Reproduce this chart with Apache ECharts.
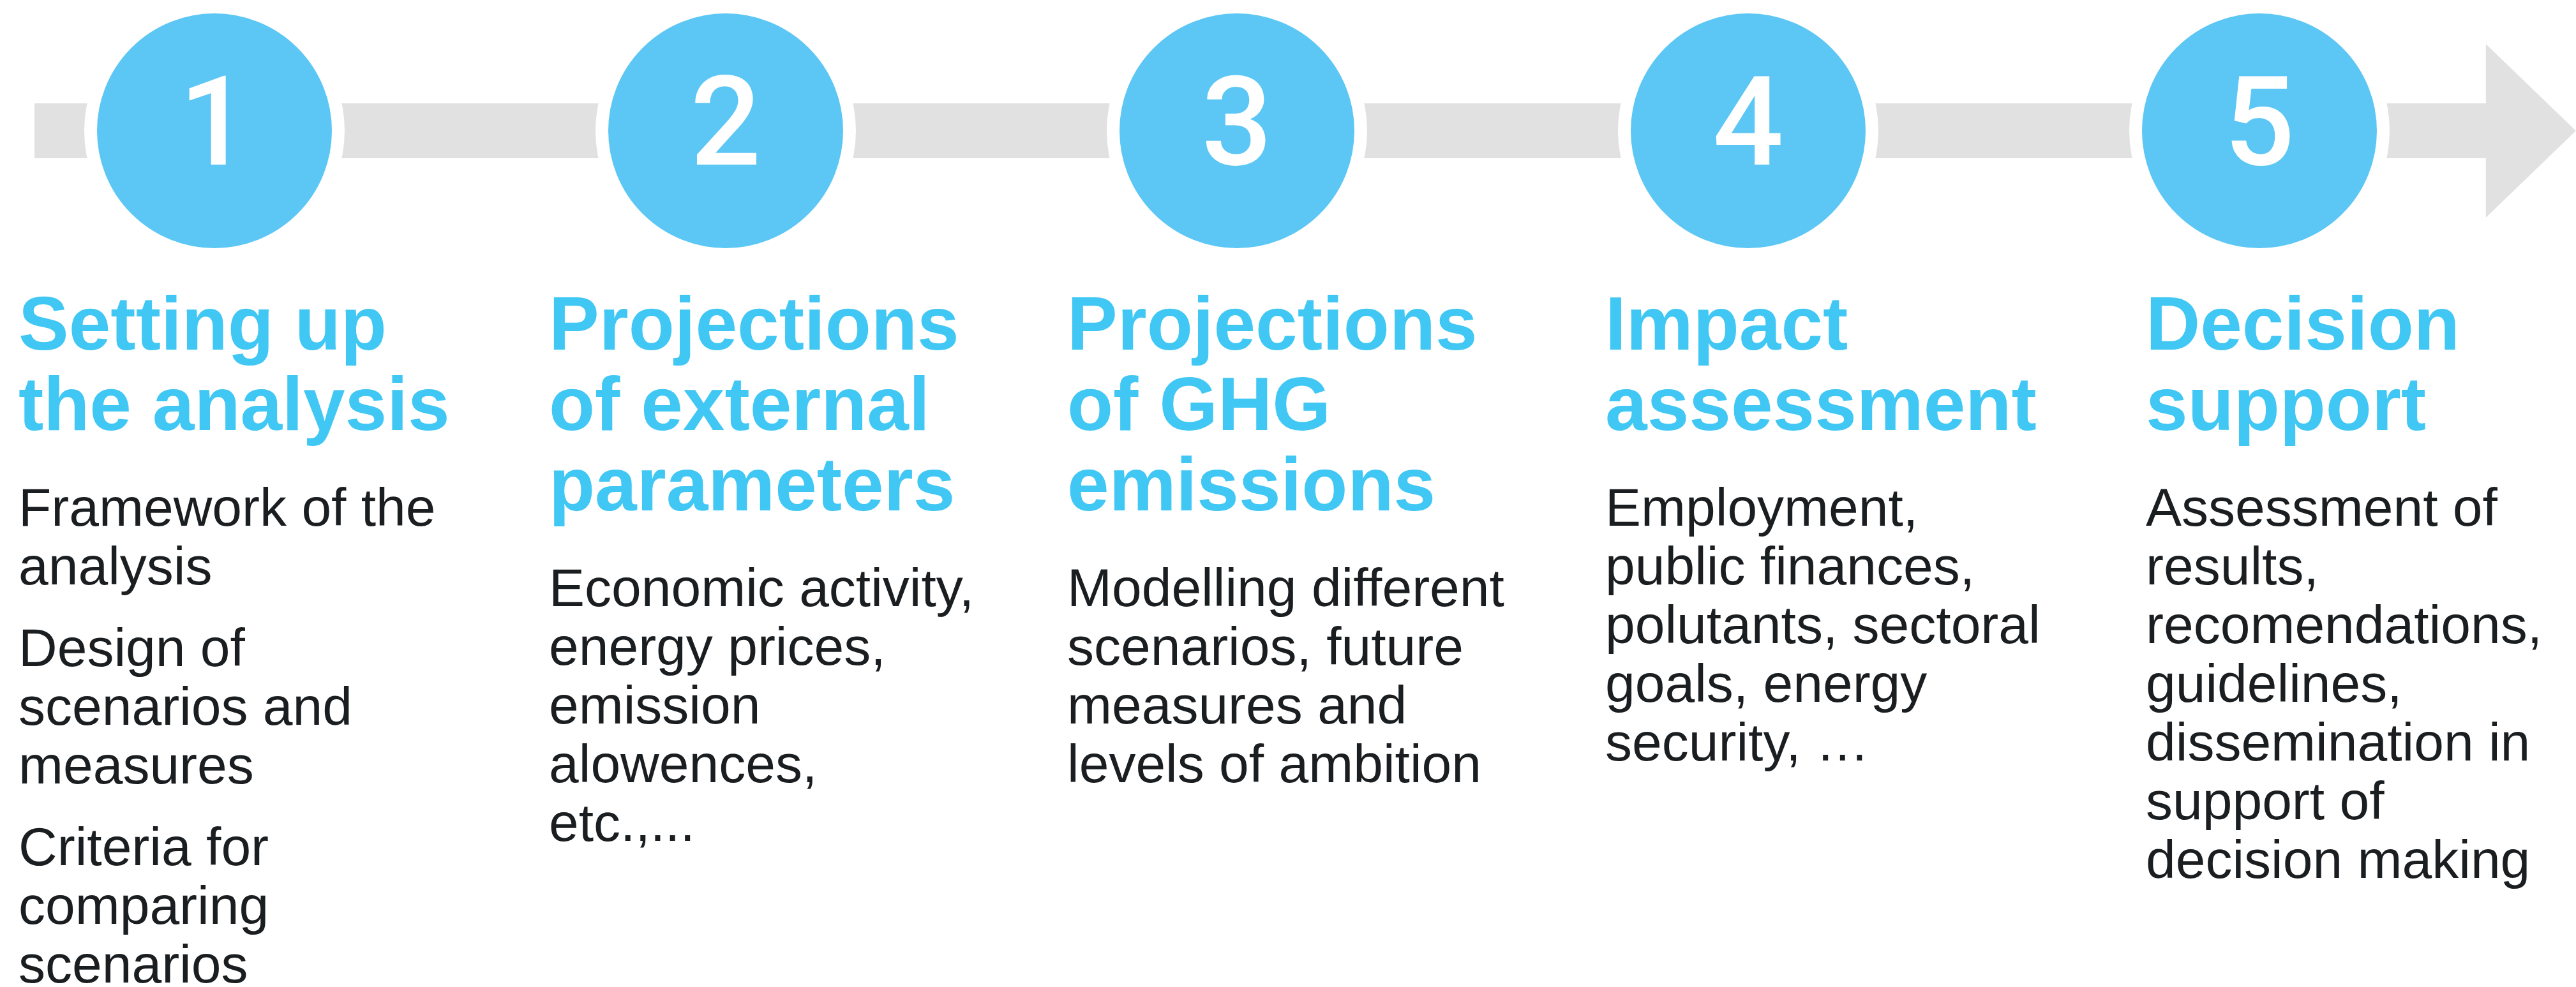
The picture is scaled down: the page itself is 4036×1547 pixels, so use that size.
<!DOCTYPE html>
<html>
<head>
<meta charset="utf-8">
<title>Process steps</title>
<script src="https://cdn.jsdelivr.net/npm/echarts@6/dist/echarts.min.js"></script>
<style>
  html, body { margin: 0; padding: 0; background: #fff; }
  #chart { width: 4036px; height: 1547px; }
</style>
</head>
<body>
<div id="chart"></div>
<script>
// step numbers on the arrow and their position along it
const steps = ['1', '2', '3', '4', '5']
const stepPos = [0, 1, 2, 3, 4]

// blue headings, one entry per line
const titles = [
  ['Setting up', 'the analysis'],
  ['Projections', 'of external', 'parameters'],
  ['Projections', 'of GHG', 'emissions'],
  ['Impact', 'assessment'],
  ['Decision', 'support']
]

// black descriptions, each inner array is a paragraph
const descriptions = [
  [['Framework of the', 'analysis'], ['Design of', 'scenarios and', 'measures'], ['Criteria for', 'comparing', 'scenarios']],
  [['Economic activity,', 'energy prices,', 'emission', 'alowences,', 'etc.,...']],
  [['Modelling different', 'scenarios, future', 'measures and', 'levels of ambition']],
  [['Employment,', 'public finances,', 'polutants, sectoral', 'goals, energy', 'security, \u2026']],
  [['Assessment of', 'results,', 'recomendations,', 'guidelines,', 'dissemination in', 'support of', 'decision making']]
]

// arrow in step units: start, head base, tip
const track = [-0.352, 4.443, 4.619]

// layout
const columnLeft = [29, 860, 1672, 2515, 3362]
const FONT = "'Liberation Sans', Arial, Helvetica, sans-serif"
const titleSize = 118
const titleLine = 126
const bodySize = 84
const bodyLine = 92
const paraGap = 36
const titleTop = 452
const bodyGap = 51

const chart = echarts.init(document.getElementById('chart'))

const graphics = []
titles.forEach(function (lines, i) {
  graphics.push({
    type: 'text',
    x: columnLeft[i],
    y: titleTop,
    silent: true,
    style: {
      text: lines.join('\n'),
      font: 'bold ' + titleSize + 'px ' + FONT,
      lineHeight: titleLine,
      fill: '#40C7F4',
      verticalAlign: 'top'
    }
  })
  let top = titleTop + lines.length * titleLine + bodyGap
  descriptions[i].forEach(function (para) {
    graphics.push({
      type: 'text',
      x: columnLeft[i],
      y: top,
      silent: true,
      style: {
        text: para.join('\n'),
        font: bodySize + 'px ' + FONT,
        lineHeight: bodyLine,
        fill: '#1B1E21',
        verticalAlign: 'top'
      }
    })
    top += para.length * bodyLine + paraGap
  })
})

const option = {
  animation: false,
  grid: { left: 336, right: 496, top: 105, height: 200 },
  xAxis: { type: 'value', min: 0, max: 4, show: false },
  yAxis: { type: 'value', min: -1, max: 1, show: false },
  graphic: graphics,
  series: [
    {
      // grey arrow behind the circles
      type: 'custom',
      silent: true,
      z: 1,
      encode: { x: [0, 1, 2], y: 3 },
      data: [[track[0], track[1], track[2], 0]],
      renderItem: function (params, api) {
        const a = api.coord([api.value(0), api.value(3)])
        const b = api.coord([api.value(1), api.value(3)])
        const c = api.coord([api.value(2), api.value(3)])
        const h = 43
        const hh = 136
        return {
          type: 'polygon',
          shape: {
            points: [
              [a[0], a[1] - h], [b[0], a[1] - h], [b[0], a[1] - hh],
              [c[0], a[1]],
              [b[0], a[1] + hh], [b[0], a[1] + h], [a[0], a[1] + h]
            ]
          },
          style: { fill: '#E1E1E1' }
        }
      }
    },
    {
      type: 'scatter',
      silent: true,
      z: 2,
      symbol: 'circle',
      symbolSize: 388,
      data: stepPos.map(function (p) { return [p, 0] }),
      itemStyle: { color: '#5CC7F4', borderColor: '#ffffff', borderWidth: 20, opacity: 1 },
      label: {
        show: true,
        position: 'inside',
        offset: [0, 4],
        formatter: function (p) { return steps[p.dataIndex] },
        color: '#ffffff',
        fontFamily: 'Roboto',
        fontWeight: 500,
        fontSize: 195
      },
      emphasis: { disabled: true }
    }
  ]
}

chart.setOption(option)

window.addEventListener('resize', function () {
  chart.resize()
})
</script>
</body>
</html>
